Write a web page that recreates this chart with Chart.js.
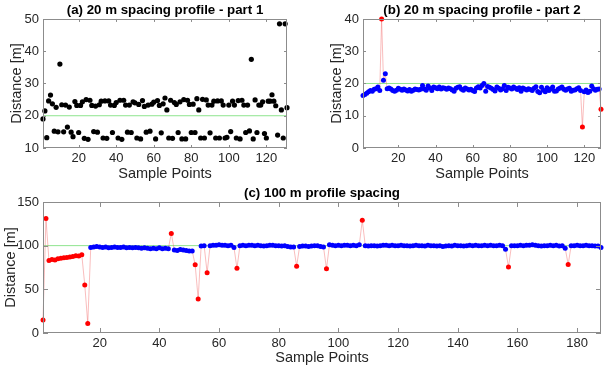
<!DOCTYPE html>
<html>
<head>
<meta charset="utf-8">
<script src="https://cdn.jsdelivr.net/npm/chart.js@4.4.1/dist/chart.umd.min.js"></script>
<style>
  html, body { margin: 0; padding: 0; background: #fff; }
  #wrap { position: relative; width: 605px; height: 368px; overflow: hidden; }
  canvas { position: absolute; }
</style>
</head>
<body>
<div id="wrap">
  <canvas id="chartA" width="302" height="185" style="left:0;top:0"></canvas>
  <canvas id="chartB" width="303" height="185" style="left:302px;top:0"></canvas>
  <canvas id="chartC" width="605" height="185" style="left:0;top:183px"></canvas>
</div>
<script>
// ---- data ----
var xTicksA = [20, 40, 60, 80, 100, 120];
var yTicksA = [10, 20, 30, 40, 50];
var distA = [19, 21.5, 13.2, 24.6, 26.4, 23.7, 15.2, 22.6, 15, 36,
  23.4, 15, 23.3, 16.5, 22.7, 14.9, 13.5, 24.4, 23.2, 14.8,
  23.2, 24.3, 13, 25, 12.7, 24.8, 23.2, 15.1, 23, 14.9,
  23.4, 24.5, 13.1, 24.6, 13, 24.6, 23.3, 14.8, 23.2, 24.1,
  13.1, 24.8, 12.7, 24.8, 23.3, 14.9, 23.3, 14.8, 24.3, 24,
  13.1, 23.5, 12.8, 24.7, 22.9, 14.9, 23.3, 15.2, 23.6, 24.2,
  12.8, 24.7, 23.2, 14.7, 23.7, 25.5, 21.8, 13.1, 24.8, 13,
  24.1, 23.5, 14.8, 24.3, 12.8, 25, 12.8, 24.8, 23.5, 14.8,
  23.6, 14.8, 25.3, 21.8, 13.1, 25.1, 13.1, 24.9, 23.3, 14.7,
  23.3, 24.5, 13.1, 24.6, 13.1, 24.6, 23.3, 13.1, 13.3, 23.3,
  15.1, 24.5, 23.3, 13.1, 24.7, 12.8, 24.8, 23.3, 14.8, 23.3,
  15.3, 37.5, 12.8, 24.9, 14.8, 23.3, 23.3, 24.3, 14.5, 13.1,
  24.5, 24.5, 26.5, 24.5, 23.1, 14, 48.5, 21.8, 13.1, 48.5,
  22.5];

var xTicksB = [20, 40, 60, 80, 100, 120];
var yTicksB = [0, 10, 20, 30, 40];
var distB = [16.3, 16.6, 17.0, 17.4, 17.8, 17.6, 18.2, 18.4, 18.9, 17.8,
  40, 21, 23, 18.4, 18.6, 18.3, 17.8, 17.6, 17.9, 18.5,
  18.2, 17.9, 18.3, 18.0, 17.7, 18.1, 17.6, 17.9, 18.3, 18.1,
  18.0, 18.2, 19.4, 18.3, 17.9, 19.2, 18.6, 17.8, 18.9, 18.7,
  18.4, 18.9, 18.3, 18.7, 18.5, 18.2, 18.6, 18.4, 18.0, 17.6,
  18.5, 18.8, 19.0, 18.2, 17.9, 18.6, 18.3, 18.0, 18.2, 17.8,
  17.5, 18.6, 19.0, 18.6, 19.4, 20.0, 17.6, 19.1, 18.8, 18.5,
  18.1, 17.7, 18.9, 18.5, 18.0, 18.4, 19.4, 17.8, 18.8, 18.6,
  18.3, 18.9, 18.5, 18.1, 18.7, 17.6, 18.6, 18.3, 18.0, 18.4,
  18.1, 17.8, 18.5, 19.0, 17.5, 17.1, 18.8, 17.9, 17.4, 18.7,
  17.8, 18.3, 18.9, 17.6, 17.7, 18.3, 18.6, 18.9, 18.2, 17.9,
  18.3, 18.5, 17.6, 17.9, 18.0, 18.4, 18.7, 17.8, 6.5, 17.4,
  18.0, 17.2, 17.6, 19.2, 18.4, 17.9, 18.2, 18.3, 12];
var outB = [11, 119, 129];

var xTicksC = [20, 40, 60, 80, 100, 120, 140, 160, 180];
var yTicksC = [0, 50, 100, 150];
var distC = [15, 131, 83, 84, 83.5, 85, 85.5, 86, 86.5, 87, 87.5, 88.5, 88, 89.5, 55, 11,
  98, 98.5, 99, 98.5, 98, 98.5, 97.5, 98, 98.5, 98, 98, 98.5, 97.5, 98,
  97.5, 98, 97.5, 97, 97.5, 97, 96.5, 97, 96.5, 97.5, 96.5, 97, 96.5,
  114,
  95, 94.5, 95.5, 95, 94.5, 94, 94,
  78, 39, 99.5, 100, 69,
  100, 100.5, 100.5, 101, 100.5, 100.5, 100, 100.5, 98, 74,
  100, 100.5, 100, 100.5, 100.5, 100, 100.5, 100, 99.5, 100,
  100.5, 100.5, 100, 100, 99.5, 100, 99, 98.5, 98.5, 76.5,
  99, 99.5, 99.5, 99, 99.5, 100, 100, 99, 98.5, 73.5,
  101, 100.5, 100, 100.5, 100, 100.5, 100.5, 100, 100.5, 100, 101, 129,
  100, 99.5, 100, 100, 99.5, 100, 100.5, 100.5, 100, 100.5,
  100, 100, 100.5, 100, 100, 99.5, 100, 100.5, 100, 100,
  99.5, 100.5, 100, 100, 99.5, 100, 99, 99.5, 100, 99.5,
  100.5, 100, 100, 99.5, 100, 100.5, 100, 100.5, 100, 100,
  100.5, 100, 100.5, 100, 100, 100.5, 100,
  96, 75.5,
  100, 100, 100, 100.5, 100, 100.5, 100.5, 101, 100.5, 100,
  99.5, 100, 100, 100.5, 100, 100.5, 99.5, 100,
  97, 78.5,
  100, 100, 100.5, 100, 100, 100.5, 100, 100, 99.5, 99.5, 98];
var outC = [1, 2, 3, 4, 5, 6, 7, 8, 9, 10, 11, 12, 13, 14, 15, 16,
  44, 52, 53, 56, 66, 86, 96, 108, 157, 177];

var nominalAB = 20;
var nominalC = 100;

// ---- helpers ----
var fontFam = '"Liberation Sans", Arial, Helvetica, sans-serif';
var txt = '#262626';

function pts(arr, keep) {
  var res = [];
  arr.forEach(function(v, i) {
    if (!keep || keep(i + 1)) res.push({x: i + 1, y: v});
  });
  return res;
}

// MATLAB-style box with inward ticks on all four sides
var boxPlugin = {
  id: 'box',
  afterDatasetsDraw: function(chart, args, opts) {
    var a = chart.chartArea, ctx = chart.ctx;
    var xs = chart.scales.x, ys = chart.scales.y;
    var len = opts.tickLen || 3;
    ctx.save();
    ctx.strokeStyle = '#8c8c8c';
    ctx.lineWidth = 1;
    ctx.strokeRect(Math.round(a.left) + 0.5, Math.round(a.top) + 0.5,
      Math.round(a.right - a.left) - 1, Math.round(a.bottom - a.top) - 1);
    ctx.beginPath();
    xs.ticks.forEach(function(t) {
      var px = Math.round(xs.getPixelForValue(t.value)) + 0.5;
      ctx.moveTo(px, a.bottom); ctx.lineTo(px, a.bottom - len);
      ctx.moveTo(px, a.top); ctx.lineTo(px, a.top + len);
    });
    ys.ticks.forEach(function(t) {
      var py = Math.round(ys.getPixelForValue(t.value)) + 0.5;
      ctx.moveTo(a.left, py); ctx.lineTo(a.left + len, py);
      ctx.moveTo(a.right, py); ctx.lineTo(a.right - len, py);
    });
    ctx.stroke();
    ctx.restore();
  }
};

function makeOptions(o) {
  return {
    responsive: false,
    animation: false,
    events: [],
    layout: { padding: { left: o.padLeft, right: o.padRight, top: 0, bottom: 0 } },
    plugins: {
      legend: { display: false },
      tooltip: { enabled: false },
      title: {
        display: true,
        text: o.title,
        fullSize: false,
        color: '#000',
        font: { family: fontFam, size: 13.3, weight: 'bold' },
        padding: { top: 2, bottom: 1 }
      },
      box: { tickLen: o.tickLen }
    },
    scales: {
      x: {
        type: 'linear',
        min: 1,
        max: o.xMax,
        grid: { display: false, drawTicks: false, tickLength: 0 },
        border: { display: false },
        afterBuildTicks: function(s) { s.ticks = o.xTicks.map(function(v) { return {value: v}; }); },
        afterFit: function(s) { s.height = o.xHeight; },
        ticks: { color: txt, font: { family: fontFam, size: 13 }, padding: 3, maxRotation: 0 },
        title: {
          display: true, text: 'Sample Points', color: txt,
          font: { family: fontFam, size: 14.5 }, padding: { top: 0, bottom: o.xTitlePad }
        }
      },
      y: {
        type: 'linear',
        min: o.yTicks[0],
        max: o.yTicks[o.yTicks.length - 1],
        grid: { display: false, drawTicks: false, tickLength: 0 },
        border: { display: false },
        afterBuildTicks: function(s) { s.ticks = o.yTicks.map(function(v) { return {value: v}; }); },
        afterFit: function(s) { s.width = o.yWidth; },
        ticks: { color: txt, font: { family: fontFam, size: 13 }, padding: 4 },
        title: {
          display: true, text: 'Distance [m]', color: txt,
          font: { family: fontFam, size: 14.5 }, padding: { top: o.yTitlePad, bottom: 0 }
        }
      }
    }
  };
}

function refLine(val, xMax) {
  return {
    data: [{x: 1, y: val}, {x: xMax, y: val}],
    showLine: true, pointRadius: 0,
    borderColor: '#8ee48e', borderWidth: 1
  };
}

// ---- (a) ----
new Chart(document.getElementById('chartA'), {
  type: 'scatter',
  data: {
    datasets: [
      { data: pts(distA), pointRadius: 2.6, pointBorderWidth: 0,
        backgroundColor: '#000', borderColor: '#000', clip: 5 },
      refLine(nominalAB, distA.length)
    ]
  },
  options: makeOptions({ title: '(a) 20 m spacing profile - part 1', xMax: distA.length,
    xTicks: xTicksA, yTicks: yTicksA, padLeft: 4, padRight: 15,
    yWidth: 39, xHeight: 37, xTitlePad: 2, yTitlePad: 4, tickLen: 3 }),
  plugins: [boxPlugin]
});

function profileDatasets(dist, outs, nominal) {
  var isOut = function(i) { return outs.indexOf(i) >= 0; };
  return [
    { data: pts(dist, function(i) { return !isOut(i); }), pointRadius: 2.5, pointBorderWidth: 0,
      backgroundColor: '#0000ff', borderColor: '#0000ff', clip: 5 },
    { data: pts(dist, isOut), pointRadius: 2.5, pointBorderWidth: 0,
      backgroundColor: '#ff0000', borderColor: '#ff0000', clip: 5 },
    { data: pts(dist), showLine: true, pointRadius: 0,
      borderColor: 'rgba(240,90,90,0.5)', borderWidth: 0.8, clip: 2 },
    refLine(nominal, dist.length)
  ];
}

// ---- (b) ----
new Chart(document.getElementById('chartB'), {
  type: 'scatter',
  data: { datasets: profileDatasets(distB, outB, nominalAB) },
  options: makeOptions({ title: '(b) 20 m spacing profile - part 2', xMax: distB.length,
    xTicks: xTicksB, yTicks: yTicksB, padLeft: 22, padRight: 1,
    yWidth: 39, xHeight: 37, xTitlePad: 2, yTitlePad: 4, tickLen: 3 }),
  plugins: [boxPlugin]
});

// ---- (c) ----
new Chart(document.getElementById('chartC'), {
  type: 'scatter',
  data: { datasets: profileDatasets(distC, outC, nominalC) },
  options: makeOptions({ title: '(c) 100 m profile spacing', xMax: distC.length,
    xTicks: xTicksC, yTicks: yTicksC, padLeft: 0, padRight: 1,
    yWidth: 43, xHeight: 35, xTitlePad: 1, yTitlePad: 2, tickLen: 5 }),
  plugins: [boxPlugin]
});
</script>
</body>
</html>
